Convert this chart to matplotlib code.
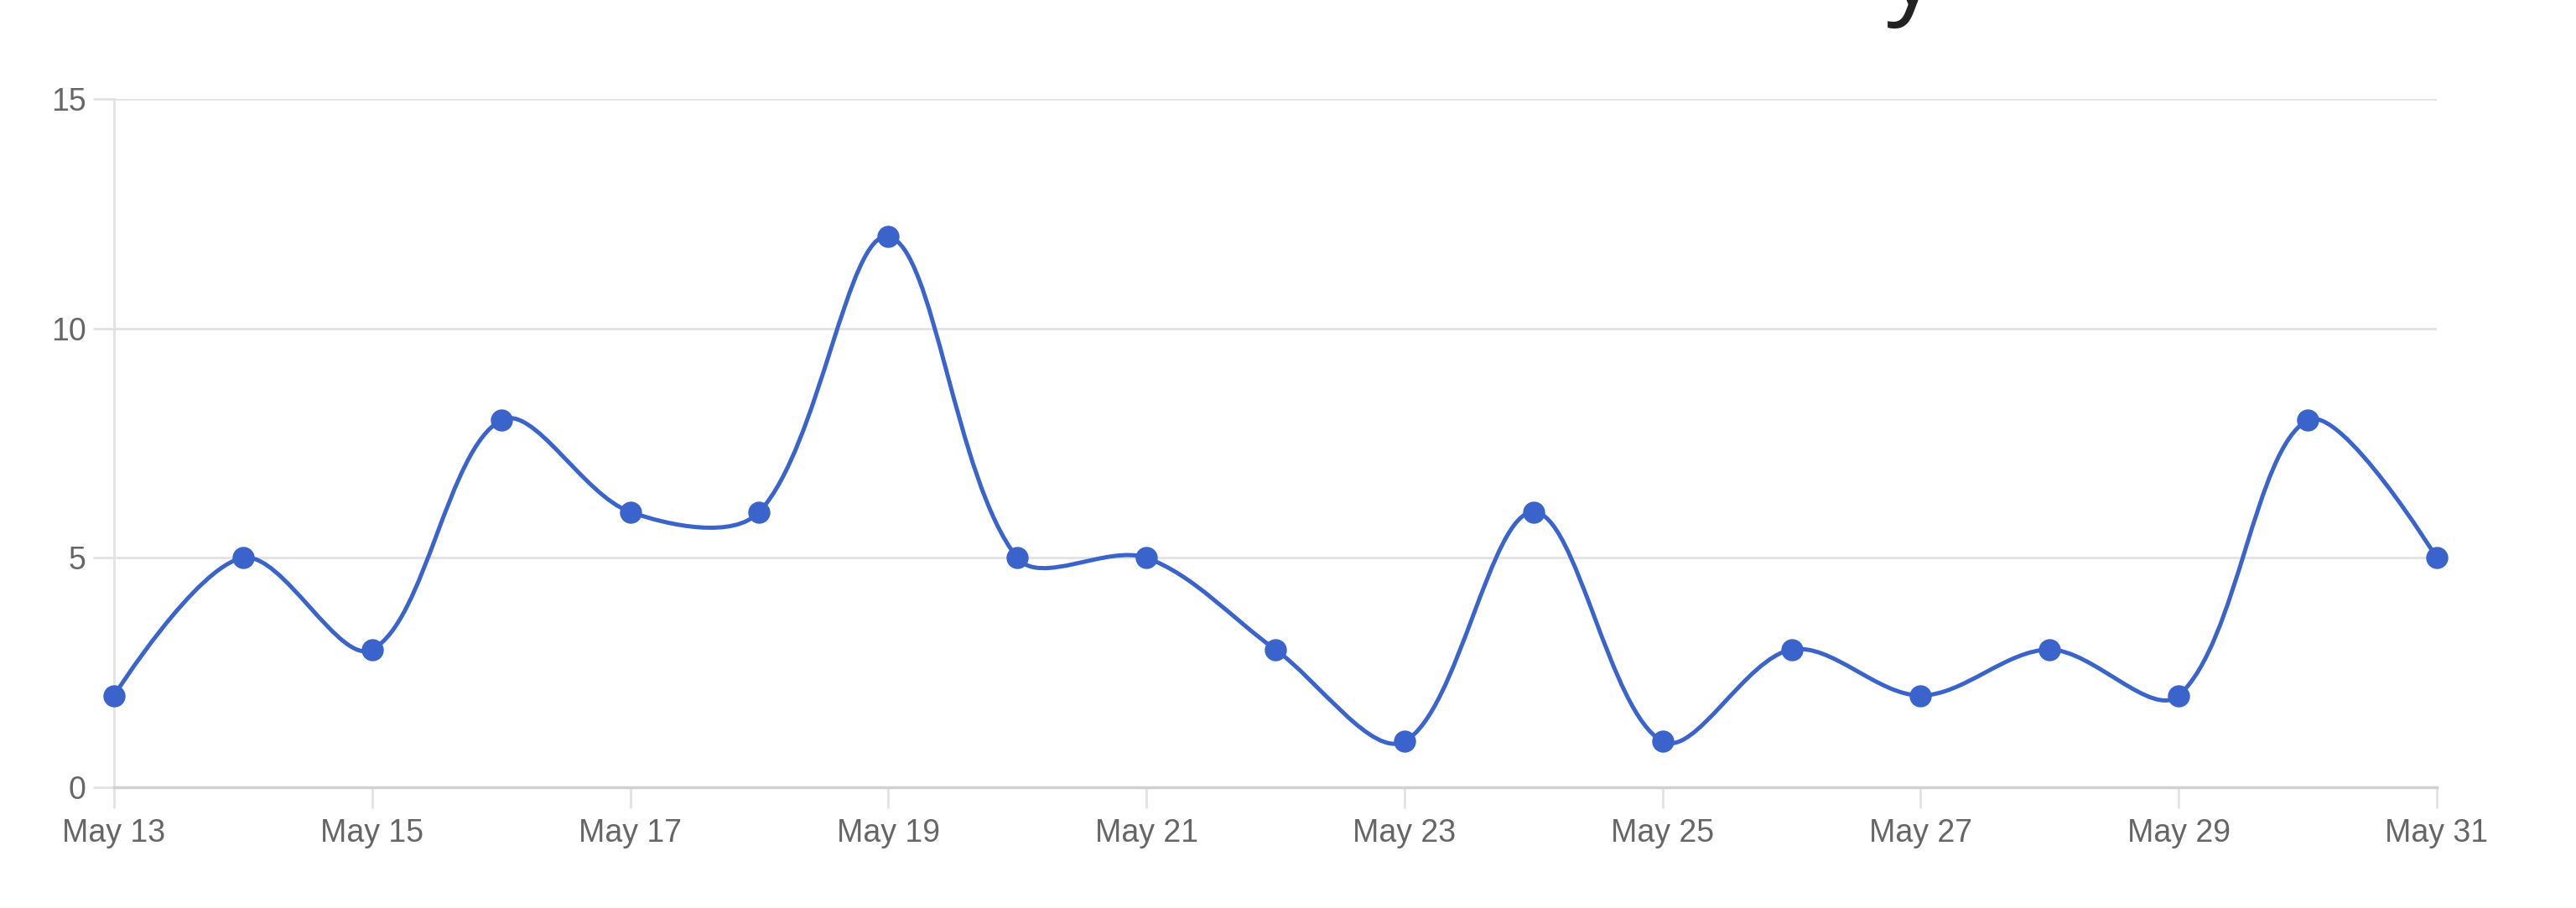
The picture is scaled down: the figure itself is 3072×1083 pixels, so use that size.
import numpy as np
import matplotlib
matplotlib.use("Agg")
import matplotlib.pyplot as plt
from matplotlib.path import Path
from matplotlib.patches import PathPatch

# ---- data ----
days = list(range(13, 32))
dates = [f"May {d}" for d in days]
values = [2, 5, 3, 8, 6, 6, 12, 5, 5, 3, 1, 6, 1, 3, 2, 3, 2, 8, 5]
y_ticks = [0, 5, 10, 15]
x_tick_labels = [f"May {d}" for d in days[::2]]

LINE = "#3a63cc"
GRID = "#e2e2e2"
TXT = "#666666"

W, H = 3072, 1083
fig = plt.figure(figsize=(W / 100, H / 100), dpi=100)
ax = fig.add_axes([136 / W, 1 - 939 / H, (2906 - 136) / W, (939 - 118) / H])

x = np.arange(len(values), dtype=float)
y = np.array(values, dtype=float)
ax.set_xlim(0, len(values) - 1)
ax.set_ylim(0, 15)

# smooth curve through the points: distance-weighted cardinal spline
# (distances measured in screen space), drawn as cubic Bezier segments
pts = np.column_stack([x, y])
disp = ax.transData.transform(pts)
n = len(pts)
tension = 1.0 / 3.0
cp_before = pts.copy()
cp_after = pts.copy()
for i in range(1, n - 1):
    d01 = np.hypot(*(disp[i] - disp[i - 1]))
    d12 = np.hypot(*(disp[i + 1] - disp[i]))
    fa = tension * d01 / (d01 + d12)
    fb = tension * d12 / (d01 + d12)
    diff = pts[i + 1] - pts[i - 1]
    cp_before[i] = pts[i] - fa * diff
    cp_after[i] = pts[i] + fb * diff
verts = [tuple(pts[0])]
codes = [Path.MOVETO]
for i in range(n - 1):
    verts += [tuple(cp_after[i]), tuple(cp_before[i + 1]), tuple(pts[i + 1])]
    codes += [Path.CURVE4] * 3
patch = PathPatch(Path(verts, codes), facecolor="none", edgecolor=LINE,
                  lw=3.6, zorder=3, clip_on=False, capstyle="round", joinstyle="round")
ax.add_patch(patch)
ax.plot(x, y, "o", color=LINE, markersize=18, zorder=4, clip_on=False)

ax.set_yticks(y_ticks)
ax.set_yticklabels([str(v) for v in y_ticks])
ax.set_xticks(x[::2])
ax.set_xticklabels(x_tick_labels)

for s in ["top", "right"]:
    ax.spines[s].set_visible(False)
ax.spines["left"].set_color(GRID)
ax.spines["bottom"].set_color("#d0d0d0")
ax.spines["left"].set_linewidth(2)
ax.spines["bottom"].set_linewidth(2.5)
ax.grid(axis="y", color=GRID, lw=2, zorder=0)
ax.set_axisbelow(True)
ax.tick_params(axis="both", length=18, width=2, color=GRID, labelcolor=TXT,
               labelsize=27)
ax.tick_params(axis="x", pad=9)
ax.tick_params(axis="y", pad=6)
for lab in ax.get_xticklabels() + ax.get_yticklabels():
    lab.set_fontfamily("Liberation Sans")

# top title, cut off by the canvas edge (only a descender visible)
fig.text(2310 / W, 1.0 - 5 / H, "y", ha="right", va="baseline",
         fontsize=86, color="#222222", fontfamily="Open Sans")

fig.savefig("out.png", dpi=100, facecolor="white")
